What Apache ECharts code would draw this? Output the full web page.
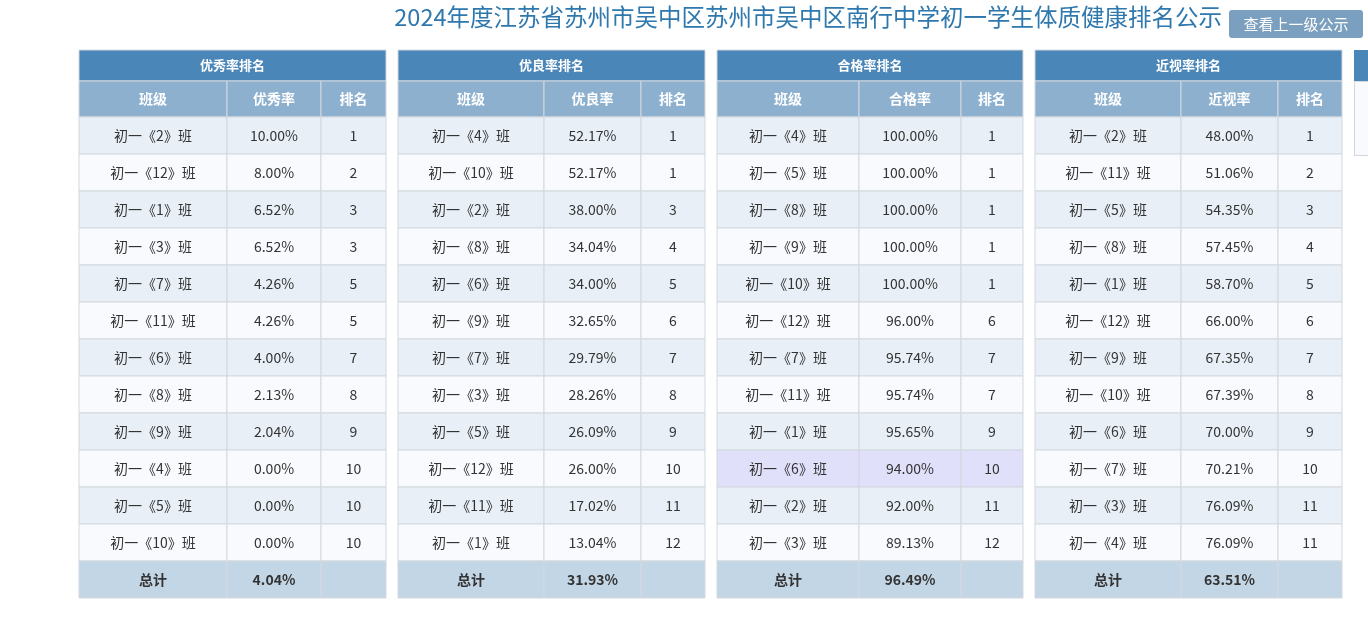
<!DOCTYPE html>
<html><head><meta charset="utf-8">
<script src="https://cdn.jsdelivr.net/npm/echarts@6/dist/echarts.min.js"></script>
<style>html,body{margin:0;padding:0;background:#fff}#c{width:1368px;height:630px}</style>
</head><body><div id="c"></div>
<script>
const pageTitle = '2024年度江苏省苏州市吴中区苏州市吴中区南行中学初一学生体质健康排名公示';
const buttonText = '查看上一级公示';
const tableTitles = ['优秀率排名','优良率排名','合格率排名','近视率排名'];
const metricNames = ['优秀率','优良率','合格率','近视率'];
const classes1 = ['初一《2》班','初一《12》班','初一《1》班','初一《3》班','初一《7》班','初一《11》班','初一《6》班','初一《8》班','初一《9》班','初一《4》班','初一《5》班','初一《10》班'];
const rates1 = ['10.00%','8.00%','6.52%','6.52%','4.26%','4.26%','4.00%','2.13%','2.04%','0.00%','0.00%','0.00%'];
const ranks1 = [1,2,3,3,5,5,7,8,9,10,10,10];
const classes2 = ['初一《4》班','初一《10》班','初一《2》班','初一《8》班','初一《6》班','初一《9》班','初一《7》班','初一《3》班','初一《5》班','初一《12》班','初一《11》班','初一《1》班'];
const rates2 = ['52.17%','52.17%','38.00%','34.04%','34.00%','32.65%','29.79%','28.26%','26.09%','26.00%','17.02%','13.04%'];
const ranks2 = [1,1,3,4,5,6,7,8,9,10,11,12];
const classes3 = ['初一《4》班','初一《5》班','初一《8》班','初一《9》班','初一《10》班','初一《12》班','初一《7》班','初一《11》班','初一《1》班','初一《6》班','初一《2》班','初一《3》班'];
const rates3 = ['100.00%','100.00%','100.00%','100.00%','100.00%','96.00%','95.74%','95.74%','95.65%','94.00%','92.00%','89.13%'];
const ranks3 = [1,1,1,1,1,6,7,7,9,10,11,12];
const classes4 = ['初一《2》班','初一《11》班','初一《5》班','初一《8》班','初一《1》班','初一《12》班','初一《9》班','初一《10》班','初一《6》班','初一《7》班','初一《3》班','初一《4》班'];
const rates4 = ['48.00%','51.06%','54.35%','57.45%','58.70%','66.00%','67.35%','67.39%','70.00%','70.21%','76.09%','76.09%'];
const ranks4 = [1,2,3,4,5,6,7,8,9,10,11,11];
const totals = ['4.04%','31.93%','96.49%','63.51%'];
const totalLabel = '总计';
const colHeaders = ['班级', null, '排名'];
const highlight = [-1,-1,9,-1];

const tablesData = [[classes1,rates1,ranks1],[classes2,rates2,ranks2],[classes3,rates3,ranks3],[classes4,rates4,ranks4]];
const lefts = [79,398,717,1035];
const colEdges = [[0,148,242,307],[0,146,243,307],[0,142,244,306],[0,146,243,307]];
const rowEdges = [0,31,67];
for(let i=1;i<=13;i++) rowEdges.push(67+37*i);
const H = rowEdges[rowEdges.length-1];

const grids=[],xAxes=[],yAxes=[],series=[];
tablesData.forEach((t,k)=>{
  const ce=colEdges[k], W=ce[3];
  grids.push({left:lefts[k],top:50,width:W,height:H});
  xAxes.push({type:'value',gridIndex:k,min:0,max:W,show:false});
  yAxes.push({type:'value',gridIndex:k,min:0,max:H,inverse:true,show:false});
  const data=[];
  data.push([0,W,rowEdges[0],rowEdges[1],tableTitles[k],'title']);
  const hdr=[colHeaders[0],metricNames[k],colHeaders[2]];
  for(let c=0;c<3;c++) data.push([ce[c],ce[c+1],rowEdges[1],rowEdges[2],hdr[c],'head']);
  for(let r=0;r<12;r++){
    const vals=[t[0][r],t[1][r],String(t[2][r])];
    const kind = r===highlight[k]?'hl':(r%2===0?'odd':'even');
    for(let c=0;c<3;c++) data.push([ce[c],ce[c+1],rowEdges[2+r],rowEdges[3+r],vals[c],kind]);
  }
  const tv=[totalLabel,totals[k],''];
  for(let c=0;c<3;c++) data.push([ce[c],ce[c+1],rowEdges[14],rowEdges[15],tv[c],'total']);
  series.push({type:'custom',xAxisIndex:k,yAxisIndex:k,data,
    encode:{x:[0,1],y:[2,3]},
    renderItem:(p,api)=>{
      const a=api.coord([api.value(0),api.value(2)]), b=api.coord([api.value(1),api.value(3)]);
      const kind=api.value(5);
      const fills={title:'#4a86b8',head:'#8db0cf',odd:'#e8eff7',even:'#f8fafd',hl:'#e1e0fb',total:'#c3d6e6'};
      const bold = kind==='title'||kind==='head'||kind==='total';
      const col = (kind==='title'||kind==='head')?'#ffffff':'#333333';
      return {type:'rect',shape:{x:a[0],y:a[1],width:b[0]-a[0],height:b[1]-a[1]},
        style:{fill:fills[kind],stroke:'#d3d8de',lineWidth:1},
        textContent:{style:{text:api.value(4),fill:col,font:(bold?'bold ':'')+(kind==='head'?'14px':(kind==='title'?'13px':'14px'))+' "Noto Sans CJK SC", sans-serif'}},
        textConfig:{position:'inside'}};
    }});
});

const chart=echarts.init(document.getElementById('c'));
chart.setOption({animation:false,grid:grids,xAxis:xAxes,yAxis:yAxes,series,
  graphic:[
    {type:'text',right:146,top:5,style:{text:pageTitle,fill:'#2e78ad',font:'23.5px "Noto Sans CJK SC", sans-serif'}},
    {type:'rect',left:1229,top:10,shape:{width:134,height:28,r:3},style:{fill:'#7a9fbf'},
      textContent:{style:{text:buttonText,fill:'#fff',font:'15px "Noto Sans CJK SC", sans-serif'}},textConfig:{position:'inside'}},
    {type:'rect',left:1354,top:50,shape:{width:20,height:31},style:{fill:'#4a86b8'}},
    {type:'rect',left:1354,top:81,shape:{width:20,height:74},style:{fill:'#f8fafd',stroke:'#d3d8de'}}
  ]});
</script></body></html>
